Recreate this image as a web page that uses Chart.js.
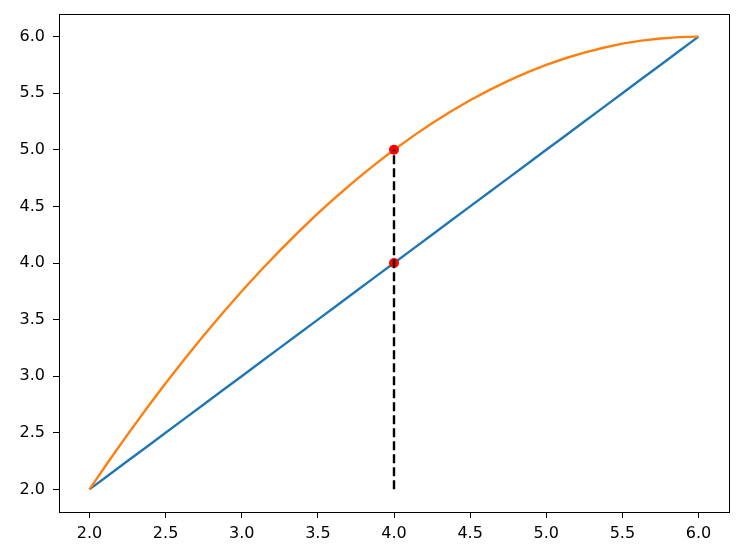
<!DOCTYPE html>
<html><head><meta charset="utf-8">
<script src="https://cdn.jsdelivr.net/npm/chart.js@4/dist/chart.umd.min.js"></script>
<style>html,body{margin:0;padding:0;background:#fff;}</style>
</head><body>
<canvas id="c" width="748" height="559"></canvas>
<script>
const xValues = [2.0, 2.125, 2.25, 2.375, 2.5, 2.625, 2.75, 2.875, 3.0, 3.125, 3.25, 3.375, 3.5, 3.625, 3.75, 3.875, 4.0, 4.125, 4.25, 4.375, 4.5, 4.625, 4.75, 4.875, 5.0, 5.125, 5.25, 5.375, 5.5, 5.625, 5.75, 5.875, 6.0];
const lineValues = [2.0, 2.125, 2.25, 2.375, 2.5, 2.625, 2.75, 2.875, 3.0, 3.125, 3.25, 3.375, 3.5, 3.625, 3.75, 3.875, 4.0, 4.125, 4.25, 4.375, 4.5, 4.625, 4.75, 4.875, 5.0, 5.125, 5.25, 5.375, 5.5, 5.625, 5.75, 5.875, 6.0];
const curveValues = [2.0, 2.246, 2.484, 2.715, 2.938, 3.152, 3.359, 3.559, 3.75, 3.934, 4.109, 4.277, 4.438, 4.590, 4.734, 4.871, 5.0, 5.121, 5.234, 5.340, 5.438, 5.527, 5.609, 5.684, 5.75, 5.809, 5.859, 5.902, 5.938, 5.965, 5.984, 5.996, 6.0];
const markerX = [4.0, 4.0];
const markerY = [4.0, 5.0];
const vlineX = [4.0, 4.0];
const vlineY = [2.0, 5.0];
const xTicks = [2.0, 2.5, 3.0, 3.5, 4.0, 4.5, 5.0, 5.5, 6.0];
const yTicks = [2.0, 2.5, 3.0, 3.5, 4.0, 4.5, 5.0, 5.5, 6.0];

const pts = (xs, ys) => xs.map((x, i) => ({x: x, y: ys[i]}));

const frame = {
  id: 'frame',
  afterDatasetsDraw(chart) {
    const a = chart.chartArea, ctx = chart.ctx;
    ctx.save();
    ctx.strokeStyle = '#000';
    ctx.lineWidth = 1;
    ctx.strokeRect(Math.round(a.left) + 0.5, Math.round(a.top) + 0.5, Math.round(a.right - a.left), Math.round(a.bottom - a.top));
    ctx.restore();
  }
};

new Chart(document.getElementById('c'), {
  type: 'line',
  data: {
    datasets: [
      {data: pts(vlineX, vlineY), borderColor: '#000', borderWidth: 2.4, borderDash: [9, 4], pointRadius: 0, order: 0},
      {type: 'scatter', data: pts(markerX, markerY), backgroundColor: '#ff0000', borderWidth: 0, pointRadius: 5, order: 1},
      {data: pts(xValues, curveValues), borderColor: '#ff7f0e', borderWidth: 2.4, pointRadius: 0, tension: 0, order: 2},
      {data: pts(xValues, lineValues), borderColor: '#1f77b4', borderWidth: 2.4, pointRadius: 0, order: 3}
    ]
  },
  options: {
    responsive: false,
    animation: false,
    devicePixelRatio: 1,
    layout: {padding: {left: 0, right: 19, top: 14, bottom: 0}},
    plugins: {legend: {display: false}, tooltip: {enabled: false}},
    scales: {
      x: {
        type: 'linear', min: 1.8, max: 6.2,
        afterBuildTicks: s => { s.ticks = xTicks.map(v => ({value: v})); },
        afterFit: s => { s.height = 47; s.paddingLeft = 0; s.paddingRight = 0; },
        grid: {drawOnChartArea: false, tickLength: 6, color: '#000', tickWidth: 1},
        border: {display: false},
        ticks: {color: '#000', padding: 6, maxRotation: 0, autoSkip: false,
          font: {family: 'DejaVu Sans', size: 16}, callback: v => Number(v).toFixed(1)}
      },
      y: {
        type: 'linear', min: 1.8, max: 6.2,
        afterBuildTicks: s => { s.ticks = yTicks.map(v => ({value: v})); },
        afterFit: s => { s.width = 59; s.paddingTop = 0; s.paddingBottom = 0; },
        grid: {drawOnChartArea: false, tickLength: 6, color: '#000', tickWidth: 1},
        border: {display: false},
        ticks: {color: '#000', padding: 8, autoSkip: false,
          font: {family: 'DejaVu Sans', size: 16}, callback: v => Number(v).toFixed(1)}
      }
    }
  },
  plugins: [frame]
});
</script>
</body></html>
